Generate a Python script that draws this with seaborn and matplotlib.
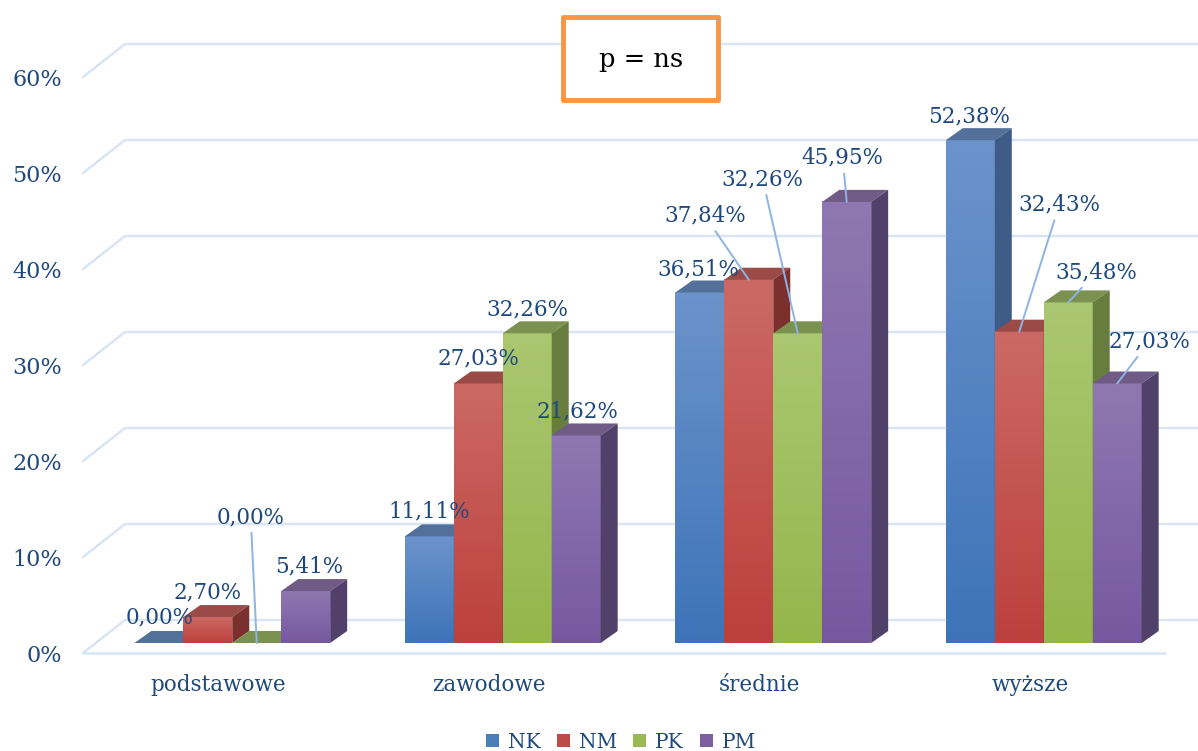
import numpy as np
import pandas as pd
import seaborn as sns
import matplotlib
matplotlib.use("Agg")
import matplotlib.pyplot as plt
from matplotlib.patches import Polygon, Rectangle, Patch
from matplotlib.lines import Line2D
from matplotlib.colors import LinearSegmentedColormap
from matplotlib.transforms import ScaledTranslation, IdentityTransform

# ---- data -------------------------------------------------------------
categories = ["podstawowe", "zawodowe", "średnie", "wyższe"]
series = ["NK", "NM", "PK", "PM"]
nk = [0.00, 11.11, 36.51, 52.38]
nm = [2.70, 27.03, 37.84, 32.43]
pk = [0.00, 32.26, 32.26, 35.48]
pm = [5.41, 21.62, 45.95, 27.03]
y_ticks = [0, 10, 20, 30, 40, 50, 60]
y_tick_labels = ["0%", "10%", "20%", "30%", "40%", "50%", "60%"]
title_text = "p = ns"

values = {"NK": nk, "NM": nm, "PK": pk, "PM": pm}
df = pd.DataFrame(
    [(c, s, values[s][i]) for s in series for i, c in enumerate(categories)],
    columns=["wyksztalcenie", "grupa", "odsetek"],
)

# ---- styling ----------------------------------------------------------
legend_col = {"NK": "#4A7EBB", "NM": "#BE4B48", "PK": "#98B954", "PM": "#7D60A0"}
front_lo = {"NK": "#3D74B8", "NM": "#BC403D", "PK": "#94B64B", "PM": "#7658A0"}
front_hi = {"NK": "#6C93CB", "NM": "#CC6964", "PK": "#AAC771", "PM": "#8F78B1"}
top_col = {"NK": "#52709A", "NM": "#9A4A47", "PK": "#7B9150", "PM": "#6F5B86"}
side_col = {"NK": "#3E5C85", "NM": "#7B302D", "PK": "#667D3D", "PM": "#51406A"}
text_col = "#1F497D"
grid_col = "#D9E5F5"
leader_col = "#8DB4E2"

FRONT_TO_BAR = (14, 10)     # pixel shift from axis plane to bar plane
FRONT_TO_BACK = (42, 33)    # pixel shift from axis plane to back wall
DEPTH = (17, 12)            # bar depth in pixels

# label position (pixels relative to bar top-front centre), leader flag
label_pos = {
    ("podstawowe", "NK"): (1, 26, False),
    ("podstawowe", "NM"): (0, 25, False),
    ("podstawowe", "PK"): (-6, 126, True),
    ("podstawowe", "PM"): (3, 25, False),
    ("zawodowe", "NK"): (0, 25, False),
    ("zawodowe", "NM"): (0, 25, False),
    ("zawodowe", "PK"): (0, 24, False),
    ("zawodowe", "PM"): (1, 24, False),
    ("średnie", "NK"): (-1, 23, False),
    ("średnie", "NM"): (-44, 64, True),
    ("średnie", "PK"): (-35, 154, True),
    ("średnie", "PM"): (-4, 44, True),
    ("wyższe", "NK"): (-1, 24, False),
    ("wyższe", "NM"): (40, 127, True),
    ("wyższe", "PK"): (28, 30, True),
    ("wyższe", "PM"): (32, 42, True),
}

sns.set_theme(style="white")
plt.rcParams["font.family"] = ["DejaVu Serif"]

W, H = 1198, 751
fig = plt.figure(figsize=(W / 100, H / 100), dpi=100)
ax = fig.add_axes([83 / W, 98 / H, 1082 / W, 576 / H])

sns.barplot(
    data=df, x="wyksztalcenie", y="odsetek", hue="grupa",
    order=categories, hue_order=series, palette=legend_col,
    width=0.724, saturation=1, errorbar=None, legend=False, ax=ax,
)
ax.set_xlim(-0.5, 3.5)
ax.set_ylim(0, 60)
for sp in ax.spines.values():
    sp.set_visible(False)
ax.grid(False)
ax.set_xlabel("")
ax.set_ylabel("")
ax.set_yticks(y_ticks, y_tick_labels)
ax.tick_params(axis="y", length=0, pad=15, labelsize=16, labelcolor=text_col)
ax.tick_params(axis="x", length=0, pad=15, labelsize=15.5, labelcolor=text_col)

bar_shift = ScaledTranslation(FRONT_TO_BAR[0] / 100, FRONT_TO_BAR[1] / 100,
                              fig.dpi_scale_trans)
bar_trans = ax.transData + bar_shift

# collect bars with their category / series
bars = []
for j, cont in enumerate(ax.containers):
    for i, rect in enumerate(cont):
        bars.append((i, j, rect))
bars.sort(key=lambda t: (t[0], t[1]))

# front faces with vertical gradient
grad = np.linspace(0, 1, 256).reshape(-1, 1)
for k, (i, j, rect) in enumerate(bars):
    s = series[j]
    z = 2 + 0.01 * k
    rect.set_transform(bar_trans)
    rect.set_zorder(z)
    rect.set_edgecolor("none")
    rect.set_facecolor(front_lo[s])
    h = rect.get_height()
    if h > 0:
        cm = LinearSegmentedColormap.from_list(s, [front_lo[s], front_hi[s]])
        x0 = rect.get_x()
        ax.imshow(grad, extent=(x0, x0 + rect.get_width(), 0, h),
                  origin="lower", cmap=cm, aspect="auto",
                  interpolation="bilinear", transform=bar_trans,
                  zorder=z + 0.001)
ax.set_xlim(-0.5, 3.5)
ax.set_ylim(0, 60)


def to_px(x, y, shift):
    px, py = ax.transData.transform((x, y))
    return px + shift[0], py + shift[1]


# top and side faces
dx, dy = DEPTH
for k, (i, j, rect) in enumerate(bars):
    s = series[j]
    z = 2 + 0.01 * k
    x0 = rect.get_x()
    x1 = x0 + rect.get_width()
    h = rect.get_height()
    ax_, ay_ = to_px(x0, 0, FRONT_TO_BAR)
    bx_, by_ = to_px(x1, h, FRONT_TO_BAR)
    top = [(ax_, by_), (bx_, by_), (bx_ + dx, by_ + dy), (ax_ + dx, by_ + dy)]
    ax.add_patch(Polygon(top, closed=True, facecolor=top_col[s], edgecolor="none",
                         transform=IdentityTransform(), zorder=z + 0.002,
                         clip_on=False))
    if h > 0:
        side = [(bx_, ay_), (bx_, by_), (bx_ + dx, by_ + dy), (bx_ + dx, ay_ + dy)]
        ax.add_patch(Polygon(side, closed=True, facecolor=side_col[s],
                             edgecolor="none", transform=IdentityTransform(),
                             zorder=z + 0.003, clip_on=False))

# back wall gridlines, left diagonals and floor front edge
for v in y_ticks:
    fx, fy = to_px(-0.5, v, (0, 0))
    bx, by = to_px(-0.5, v, FRONT_TO_BACK)
    rx, ry = to_px(3.5, v, FRONT_TO_BACK)
    ax.add_line(Line2D([fx, bx, rx], [fy, by, ry], color=grid_col, lw=1.8,
                       transform=IdentityTransform(), zorder=0.5, clip_on=False))
fx0, fy0 = to_px(-0.5, 0, (0, 0))
fx1, fy1 = to_px(3.5, 0, (0, 0))
ax.add_line(Line2D([fx0, fx1], [fy0, fy1], color=grid_col, lw=1.8,
                   transform=IdentityTransform(), zorder=0.5, clip_on=False))

# value labels
for k, (i, j, rect) in enumerate(bars):
    c, s = categories[i], series[j]
    h = rect.get_height()
    txt = f"{h:.2f}".replace(".", ",") + "%"
    cx, cy = to_px(rect.get_x() + rect.get_width() / 2, h, FRONT_TO_BAR)
    ox, oy, leader = label_pos[(c, s)]
    kw = {}
    if leader:
        kw["arrowprops"] = dict(arrowstyle="-", color=leader_col, lw=1.4,
                                shrinkA=1, shrinkB=0)
    ax.annotate(txt, xy=(cx, cy), xycoords="figure pixels",
                xytext=(cx + ox, cy + oy), textcoords="figure pixels",
                ha="center", va="center", fontsize=15.5, color=text_col,
                zorder=10, annotation_clip=False, **kw)

# significance box
fig.patches.append(Rectangle((563 / W, 1 - 100 / H), 155 / W, 83 / H,
                             transform=fig.transFigure, facecolor="white",
                             edgecolor="#F79646", lw=3.5, joinstyle="round",
                             zorder=5))
fig.text(641 / W, 1 - 60 / H, title_text, ha="center", va="center",
         fontsize=18.5, color="black", zorder=6)

# legend
handles = [Patch(facecolor=legend_col[s], edgecolor="none", label=s) for s in series]
fig.legend(handles=handles, loc="center", ncol=4, frameon=False,
           bbox_to_anchor=(621 / W, 1 - 742 / H), fontsize=14.5,
           handlelength=0.65, handleheight=0.65, handletextpad=0.45,
           columnspacing=0.8, labelcolor=text_col)

fig.savefig("out.png", dpi=100)
